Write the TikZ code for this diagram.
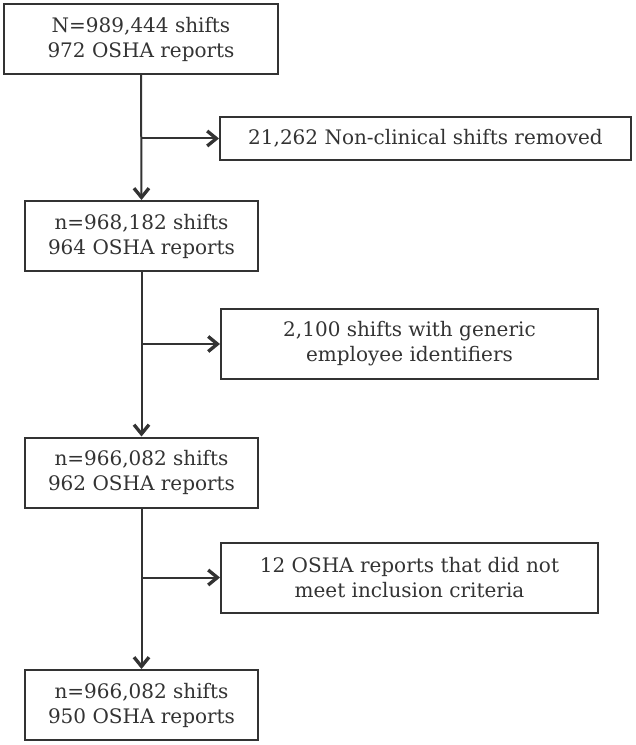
\documentclass[tikz,border=0pt]{standalone}
\usepackage{fontspec}
\setmainfont{DejaVu Serif}
\usetikzlibrary{arrows.meta}
\definecolor{ink}{HTML}{333333}
\tikzset{
  box/.style={draw=ink, line width=1.2pt, text=ink, align=center, inner sep=0pt,
    font=\fontsize{12}{15}\selectfont},
  flow/.style={draw=ink, line width=1.2pt, -{Straight Barb[length=5.5pt,width=9pt,line width=2pt]}}
}
\begin{document}
\begin{tikzpicture}[x=0.6pt,y=-0.6pt]
\useasboundingbox (0,0) rectangle (635,745);
\node[box, minimum width=274*0.6pt, minimum height=70*0.6pt] (all) at (141,39) {N=989,444 shifts\\972 OSHA reports};
\node[box, minimum width=233*0.6pt, minimum height=70*0.6pt] (clin) at (141.5,236) {n=968,182 shifts\\964 OSHA reports};
\node[box, minimum width=233*0.6pt, minimum height=70*0.6pt] (ident) at (141.5,472.5) {n=966,082 shifts\\962 OSHA reports};
\node[box, minimum width=233*0.6pt, minimum height=70*0.6pt] (final) at (141.5,705) {n=966,082 shifts\\950 OSHA reports};
\node[box, minimum width=411*0.6pt, minimum height=43*0.6pt] (nonclin) at (425.5,138.5) {21,262 Non-clinical shifts removed};
\node[box, minimum width=377*0.6pt, minimum height=70*0.6pt] (generic) at (409.5,344) {2,100 shifts with generic\\employee identifiers};
\node[box, minimum width=377*0.6pt, minimum height=70*0.6pt] (criteria) at (409.5,577.5) {12 OSHA reports that did not\\meet inclusion criteria};
% main column
\draw[flow](all.south)--(clin.north);
\draw[flow](clin.south)--(ident.north);
\draw[flow](ident.south)--(final.north);
% exclusions
\draw[flow](all.south|-nonclin.west)--(nonclin.west);
\draw[flow](clin.south|-generic.west)--(generic.west);
\draw[flow](ident.south|-criteria.west)--(criteria.west);
\end{tikzpicture}
\end{document}
